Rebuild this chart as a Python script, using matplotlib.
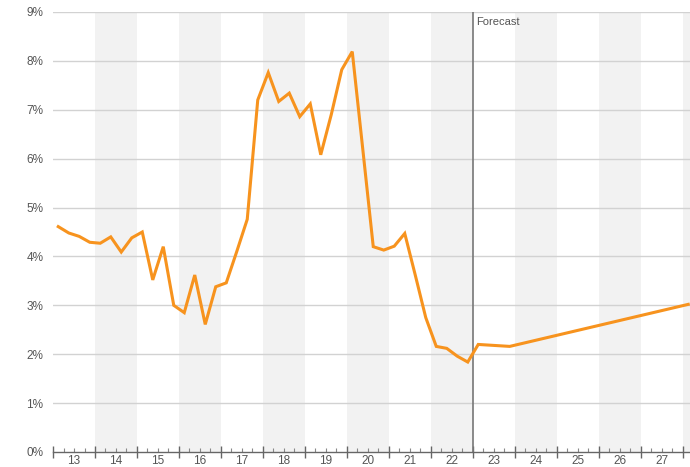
import numpy as np
import matplotlib
matplotlib.use("Agg")
import matplotlib.pyplot as plt
import matplotlib.transforms as mtransforms

plt.rcParams['font.family'] = ['Liberation Sans', 'DejaVu Sans']

# quarterly history, 2013Q1 .. 2022Q4 (%)
hist_start = 2013
hist_values = [4.61, 4.48, 4.41, 4.29,
               4.27, 4.40, 4.09, 4.38,
               4.50, 3.52, 4.20, 3.00,
               2.85, 3.62, 2.61, 3.38,
               3.46, 4.10, 4.76, 7.20,
               7.76, 7.17, 7.34, 6.86,
               7.12, 6.08, 6.90, 7.82,
               8.19, 6.20, 4.20, 4.13,
               4.21, 4.47, 3.62, 2.75,
               2.16, 2.12, 1.96, 1.84]

# forecast points: (year, quarter)
forecast_quarters = [(2023, 1), (2023, 4), (2028, 1)]
forecast_values = [2.20, 2.16, 3.02]

year_labels = [str(y % 100) for y in range(2013, 2028)]
y_ticks = list(range(0, 10))
forecast_start = 2023

def qpos(year, q):
    return year + (q - 0.5) / 4

hist_x = [qpos(hist_start + i // 4, i % 4 + 1) for i in range(len(hist_values))]
fc_x = [qpos(y, q) for y, q in forecast_quarters]
xs = hist_x + fc_x
ys = hist_values + forecast_values

fig = plt.figure(figsize=(6.9, 4.67), dpi=100)
ax = fig.add_axes([53 / 690, 15 / 467, 637 / 690, 440 / 467])

x0, x1 = 2013, 2013 + 637 / 42
ax.set_xlim(x0, x1)
ax.set_ylim(0, 9)

# alternate year shading
for y in range(2014, 2030, 2):
    ax.axvspan(y, y + 1, color='#f2f2f2', lw=0, zorder=0)

for v in y_ticks[1:]:
    ax.axhline(v, color='#d2d2d2', lw=1, zorder=1)

ax.axvline(forecast_start, color='#777777', lw=1.2, zorder=2)
ax.text(forecast_start + 0.07, 8.8, 'Forecast', fontsize=8, color='#555555',
        va='center', ha='left')

ax.plot(xs, ys, color='#f7931e', lw=2.2, zorder=3, solid_joinstyle='miter')

for s in ['top', 'right', 'left']:
    ax.spines[s].set_visible(False)
ax.spines['bottom'].set_color('#666666')
ax.spines['bottom'].set_linewidth(1)

ax.set_yticks(y_ticks)
ax.set_yticklabels([f'{v}%' for v in y_ticks], fontsize=8.5, color='#555555')
ax.tick_params(axis='y', length=0, pad=7)

ax.set_xticks(range(2013, 2029))
ax.set_xticklabels([])
ax.set_xticks(np.arange(2013, 2028.2, 0.25), minor=True)
ax.tick_params(axis='x', which='major', direction='inout', length=9,
               color='#666666', width=1)
ax.tick_params(axis='x', which='minor', direction='in', length=3,
               color='#888888', width=0.8)

trans = mtransforms.blended_transform_factory(ax.transData, ax.transAxes)
for i, lab in enumerate(year_labels):
    ax.text(2013 + i + 0.5, -0.006, lab, transform=trans, fontsize=8.5,
            color='#555555', ha='center', va='top', clip_on=False)

fig.savefig('out.png', dpi=100)
